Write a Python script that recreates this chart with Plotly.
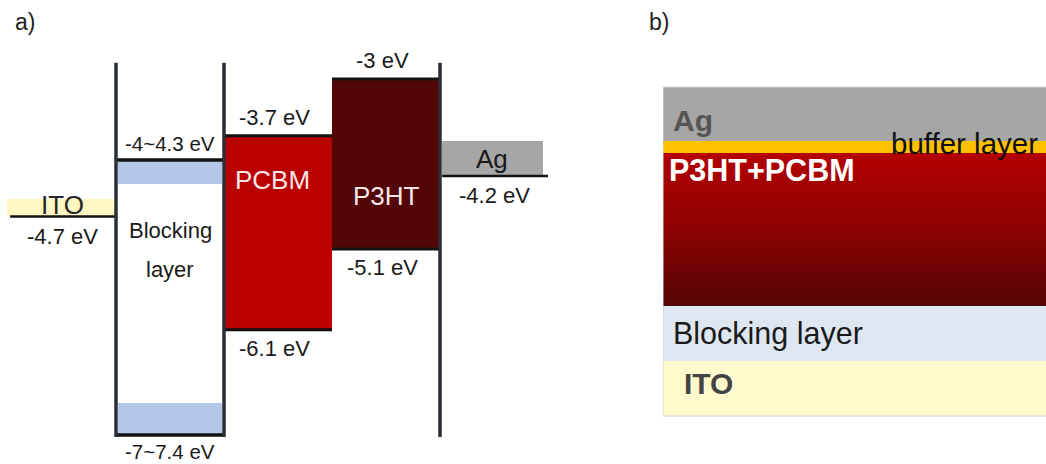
import numpy as np
import plotly.graph_objects as go

W, H = 1046, 464
FONT = "Arial, 'Liberation Sans', Helvetica, sans-serif"

# ---------------- a) energy levels (eV) ----------------
organic_names = ["PCBM", "P3HT"]
organic_lumo = [-3.7, -3.0]
organic_homo = [-6.1, -5.1]
organic_cols = [2, 3]

blocking_words = ["Blocking", "layer"]
blocking_cb = [-4.0, -4.3]   # conduction-band edge range
blocking_vb = [-7.0, -7.4]   # valence-band edge range
blocking_col = 1

electrode_names = ["ITO", "Ag"]
electrode_wf = [-4.7, -4.2]
electrode_cols = [0, 4]

# ---------------- b) device stack, bottom to top ----------------
stack_names = ["ITO", "Blocking layer", "P3HT+PCBM", "buffer layer", "Ag"]
stack_thickness = [55, 55, 153, 12, 54]   # relative thickness

# ---------------- styling ----------------
organic_colors = ["#bb0000", "#530606"]
band_color = "#b4c7e7"
electrode_fill = {"ITO": "#fff7c2", "Ag": "#a6a6a6"}
electrode_pad = {"ITO": 0.22, "Ag": 0.43}      # height of the name tab above the level, eV
stack_colors = ["#fffbcc", "#dee6f1", None, "#ffc000", "#a6a6a6"]
level_color = "#121212"
wall_color = "#2a2f37"

fig = go.Figure()

# axis geometry for panel a
col_px, col0_px = 108.0, 8.0
ax_a_frac = 0.56
ev_px = 80.9
top_level = max(organic_lumo)
top_px = 79.0
xa_range = [-col0_px / col_px, (ax_a_frac * W - col0_px) / col_px]
ya_range = [top_level - (H - top_px) / ev_px, top_level + top_px / ev_px]


def hline(x0, x1, y, width=3, color=level_color):
    fig.add_trace(go.Scatter(x=[x0, x1], y=[y, y], mode="lines",
                             line=dict(color=color, width=width),
                             hoverinfo="skip", showlegend=False,
                             xaxis="x", yaxis="y"))


def label(x, y, text, size=22, color="#1a1a1a", above=True, shift=4, **kw):
    fig.add_annotation(x=x, y=y, xref="x", yref="y", text=text, showarrow=False,
                       font=dict(family=FONT, size=size, color=color),
                       yanchor="bottom" if above else "top",
                       yshift=shift if above else -shift, **kw)


# organic semiconductors: boxes from HOMO to LUMO
fig.add_trace(go.Bar(
    x=[c + 0.5 for c in organic_cols],
    y=[l - h for l, h in zip(organic_lumo, organic_homo)],
    base=organic_homo, width=1.0,
    marker=dict(color=organic_colors, line=dict(width=0)),
    hoverinfo="skip", showlegend=False, xaxis="x", yaxis="y"))

# blocking layer band ranges
fig.add_trace(go.Bar(
    x=[blocking_col + 0.5] * 2,
    y=[blocking_cb[0] - blocking_cb[1], blocking_vb[0] - blocking_vb[1]],
    base=[blocking_cb[1], blocking_vb[1]], width=0.97,
    marker=dict(color=band_color, line=dict(width=0)),
    hoverinfo="skip", showlegend=False, xaxis="x", yaxis="y"))

# electrode name tabs
for name, wf, c in zip(electrode_names, electrode_wf, electrode_cols):
    x0, x1 = (c - 0.01, c + 1.0) if name == "ITO" else (c + 0.02, c + 0.95)
    fig.add_trace(go.Bar(
        x=[(x0 + x1) / 2], y=[electrode_pad[name]], base=[wf], width=x1 - x0,
        marker=dict(color=electrode_fill[name], line=dict(width=0)),
        hoverinfo="skip", showlegend=False, xaxis="x", yaxis="y"))

# energy level lines
for c, lu, ho in zip(organic_cols, organic_lumo, organic_homo):
    hline(c, c + 1, lu, width=3)
    hline(c, c + 1, ho, width=3)
hline(blocking_col, blocking_col + 1, blocking_cb[0], width=3.5)
hline(blocking_col, blocking_col + 1, blocking_vb[1], width=3.5)
for name, wf, c in zip(electrode_names, electrode_wf, electrode_cols):
    hline(c + 0.02, c + 1.0, wf, width=2.5)

# interface walls
wall_top = top_level + 0.2
wall_bot = min(blocking_vb) - 0.025
for xw in [blocking_col, blocking_col + 1, max(organic_cols) + 1]:
    fig.add_trace(go.Scatter(x=[xw, xw], y=[wall_bot, wall_top], mode="lines",
                             line=dict(color=wall_color, width=3.5),
                             hoverinfo="skip", showlegend=False,
                             xaxis="x", yaxis="y"))

# level values
for c, lu, ho in zip(organic_cols, organic_lumo, organic_homo):
    label(c + 0.47, lu, f"{lu:g} eV", above=True)
    label(c + 0.47, ho, f"{ho:g} eV", above=False)
label(blocking_col + 0.5, blocking_cb[0],
      f"{blocking_cb[0]:g}~{abs(blocking_cb[1]):g} eV", size=20.5, above=True, shift=3)
label(blocking_col + 0.5, blocking_vb[1],
      f"{blocking_vb[0]:g}~{abs(blocking_vb[1]):g} eV", size=20.5, above=False, shift=3)
for name, wf, c in zip(electrode_names, electrode_wf, electrode_cols):
    label(c + 0.5, wf, f"{wf:g} eV", above=False, shift=5)

# material names
name_font = dict(family=FONT, size=26, color="#f6e6e6")
fig.add_annotation(x=organic_cols[0] + 0.45, y=-4.25, xref="x", yref="y",
                   text=organic_names[0], showarrow=False, font=name_font)
fig.add_annotation(x=organic_cols[1] + 0.5, y=-4.45, xref="x", yref="y",
                   text=organic_names[1], showarrow=False, font=name_font)
for word, ey in zip(blocking_words, [-4.87, -5.36]):
    fig.add_annotation(x=blocking_col + 0.5, y=ey, xref="x", yref="y",
                       text=word, showarrow=False,
                       font=dict(family=FONT, size=22, color="#1a1a1a"))
fig.add_annotation(x=electrode_cols[1] + 0.48, y=electrode_wf[1] + 0.21, xref="x", yref="y",
                   text="Ag", showarrow=False,
                   font=dict(family=FONT, size=26, color="#1a1a1a"))
fig.add_annotation(x=electrode_cols[0] + 0.5, y=electrode_wf[0] + 0.14, xref="x", yref="y",
                   text="ITO", showarrow=False,
                   font=dict(family=FONT, size=26, color="#262626"))

# ---------------- panel b: layer stack ----------------
bases = np.concatenate([[0], np.cumsum(stack_thickness)[:-1]])
tops = bases + np.array(stack_thickness)
total = float(np.sum(stack_thickness))
for name, b, t, col in zip(stack_names, bases, stack_thickness, stack_colors):
    if col is None:
        continue
    fig.add_trace(go.Bar(x=[1.0], y=[t], base=[b], width=2.0,
                         marker=dict(color=col, line=dict(width=0)),
                         hoverinfo="skip", showlegend=False,
                         xaxis="x2", yaxis="y2"))

ia = stack_names.index("P3HT+PCBM")
b_a, t_a = bases[ia], tops[ia]
fig.add_trace(go.Scatter(
    x=[0, 2, 2, 0, 0], y=[b_a, b_a, t_a, t_a, b_a], mode="lines",
    line=dict(width=0), fill="toself",
    fillgradient=dict(type="vertical",
                      colorscale=[[0, "#540505"], [0.5, "#8c0202"], [1, "#b40000"]]),
    hoverinfo="skip", showlegend=False, xaxis="x2", yaxis="y2"))

# thin outline around the stack
fig.add_trace(go.Scatter(x=[2, 0, 0, 2], y=[0, 0, total, total], mode="lines",
                         line=dict(color="#d4d4d4", width=1),
                         hoverinfo="skip", showlegend=False,
                         xaxis="x2", yaxis="y2"))


def stack_label(name, x, text, size, color, bold=False, where="mid", yshift=0):
    i = stack_names.index(name)
    y = {"mid": (bases[i] + tops[i]) / 2, "top": tops[i]}[where]
    fig.add_annotation(x=x, y=y, xref="x2", yref="y2", text=f"<b>{text}</b>" if bold else text,
                       showarrow=False, xanchor="left",
                       yanchor="top" if where == "top" else "middle", yshift=yshift,
                       font=dict(family=FONT, size=size, color=color))


stack_label("Ag", 0.022, "Ag", 30, "#555555", bold=True, yshift=-6)
stack_label("buffer layer", 0.59, "buffer layer", 29.5, "#111111", yshift=4)
stack_label("P3HT+PCBM", 0.01, "P3HT+PCBM", 30.5, "#ffffff", bold=True, where="top", yshift=2)
stack_label("Blocking layer", 0.022, "Blocking layer", 30.5, "#1a1a1a")
stack_label("ITO", 0.05, "ITO", 30, "#444444", bold=True, yshift=5)

# panel letters
for txt, xp in [("a)", 13), ("b)", 647)]:
    fig.add_annotation(x=xp / W, y=1 - 22 / H, xref="paper", yref="paper", text=txt,
                       showarrow=False, xanchor="left", yanchor="middle",
                       font=dict(family=FONT, size=23, color="#222222"))

hidden = dict(visible=False, fixedrange=True, showgrid=False, zeroline=False)
fig.update_layout(
    width=W, height=H,
    margin=dict(l=0, r=0, t=0, b=0),
    paper_bgcolor="white", plot_bgcolor="rgba(0,0,0,0)",
    barmode="overlay", bargap=0,
    showlegend=False,
    xaxis=dict(domain=[0, ax_a_frac], range=xa_range, **hidden),
    yaxis=dict(domain=[0, 1], range=ya_range, **hidden),
    xaxis2=dict(domain=[663 / W, 1], range=[0, 1], anchor="y2", **hidden),
    yaxis2=dict(domain=[0, 1], range=[-(H - 416), total + 87], anchor="x2", **hidden),
)

fig.write_html("out.html")
